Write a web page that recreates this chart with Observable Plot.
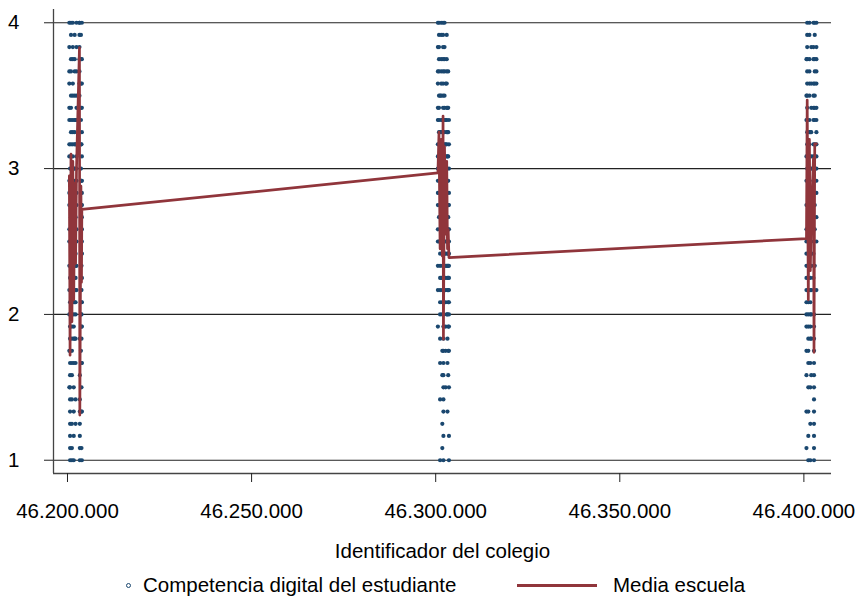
<!DOCTYPE html>
<html><head><meta charset="utf-8">
<script src="https://cdn.jsdelivr.net/npm/d3@7"></script>
<script src="https://cdn.jsdelivr.net/npm/@observablehq/plot@0.6"></script>
<style>
body{margin:0;background:#fff;font-family:"Liberation Sans",Arial,Helvetica,sans-serif;}
#chart svg{display:block}
#legend{position:relative;width:856px;height:31px;font-size:20.5px;line-height:20px;color:#000}
#legend span{position:absolute;white-space:nowrap}
</style></head><body>
<div id="chart"></div>
<div id="legend"></div>
<script>
// School identifiers (x) and school means (red line)
const schoolIds = [
  46200500, 46200700, 46200950, 46201200, 46201450, 46201700, 46201950, 46202200, 46202450, 46203250, 46203350, 46203650, 46203800, 46203900,
  46300600, 46300900, 46301200, 46301500, 46301800, 46302000, 46302100, 46302400, 46302700, 46303000, 46303200, 46303400, 46303600,
  46400700, 46400900, 46401200, 46401500, 46401750, 46402000, 46402600, 46402750, 46402950, 46403400
];
const schoolMeans = [
  2.95, 1.72, 3.10, 1.95, 3.05, 2.10, 2.90, 2.35, 3.00, 3.83, 1.31, 2.88, 2.22, 2.72,
  2.97, 3.25, 2.45, 3.20, 2.40, 3.36, 1.83, 3.15, 2.55, 3.05, 2.45, 2.58, 2.39,
  2.52, 3.47, 2.10, 3.20, 2.30, 2.66, 3.07, 1.74, 3.17, 3.17
];
// Student scores per school, in twelfths (score = k / 12)
const schoolScores = [
  [48,46,44,43,41,40,38,37,35,34,33,31,30,28,26,24,21,18],
  [36,30,27,25,24,23,22,21,20,19,18,17,16,15,14,13,12],
  [48,47,45,44,42,41,40,39,38,37,36,34,33,32,30,28,25],
  [34,31,29,27,26,25,24,23,22,21,20,19,17,15,13,12],
  [48,46,45,43,42,40,39,38,37,36,35,33,31,29,27],
  [36,33,31,29,28,27,26,25,24,23,22,20,18,16,14,12],
  [47,45,44,42,40,39,38,36,35,34,33,32,30,29,27,25,22],
  [40,38,35,33,32,31,30,29,28,27,26,25,24,22,20,17,15],
  [48,46,44,42,41,40,38,37,36,35,34,33,31,30,28,26],
  [48,48,47,46,45,44,43,42],
  [22,19,17,16,15,14,13,12],
  [47,45,43,41,40,38,36,35,34,33,32,30,28,26,24,21],
  [38,35,33,31,29,28,27,26,25,24,23,22,20,18,16,13],
  [48,45,43,41,39,37,35,34,33,32,31,30,29,27,25,23,20,16,12],

  [48,46,44,43,41,40,38,37,36,35,34,33,31,30,28,26,23],
  [48,47,46,45,44,42,41,40,39,38,37,36,35,34,32,30],
  [42,39,37,35,33,32,31,30,29,28,27,26,25,24,22,20,17,12],
  [48,47,45,44,43,42,40,39,38,37,36,35,34,32,30,27],
  [40,38,36,34,33,32,31,30,29,28,27,26,25,24,21,19,15,13],
  [48,47,46,45,44,43,42,41,40,39,38,37,35,33],
  [30,27,25,24,23,22,21,20,19,18,17,16,14,12],
  [48,46,45,44,42,41,40,39,38,37,36,35,33,31,29],
  [43,40,38,36,35,33,32,31,30,29,28,27,26,25,23,21,18],
  [47,45,44,43,41,40,39,38,37,36,35,34,33,32,30,28,24],
  [41,39,37,35,33,32,31,30,29,28,27,26,24,22,20,16],
  [44,41,39,37,35,33,32,31,30,29,28,27,26,25,23,21,19],
  [40,38,36,34,33,31,30,29,28,27,26,25,24,23,21,18,14,12],

  [45,42,40,37,35,33,31,30,29,28,27,26,25,24,23,21,19,16,13],
  [48,47,46,45,44,43,42,41,40,39,38,37,36],
  [36,33,31,29,28,27,26,25,24,23,22,21,20,18,16,14,12],
  [48,47,45,44,43,42,40,39,38,37,36,35,33,31,28],
  [39,36,34,32,31,30,29,28,27,26,25,24,23,22,20,18,15,12],
  [46,43,41,39,37,36,34,33,32,31,30,29,28,26,24,22,19],
  [48,46,45,43,42,41,40,38,37,36,35,34,33,31,29,27],
  [31,28,26,24,23,22,21,20,19,18,17,16,15,14,13,12],
  [48,47,45,44,43,42,41,40,38,37,36,35,33,31,28],
  [48,46,45,44,43,41,40,39,38,37,36,35,34,32,30,26]
];
const xTicks = [46200000, 46250000, 46300000, 46350000, 46400000];
const yTicks = [1, 2, 3, 4];
const xDomain = [46196200, 46407500];
const yDomain = [0.909, 4.091];
const xTitle = "Identificador del colegio";
const seriesNames = ["Competencia digital del estudiante", "Media escuela"];
const colors = {points: "#1a476f", line: "#90353b"};

const schools = schoolIds.map((id, i) => ({id, mean: schoolMeans[i]}));
const students = schoolIds.flatMap((id, i) => schoolScores[i].map(k => ({id, score: k / 12})));

const fmt = d3.formatLocale({decimal: ",", thousands: ".", grouping: [3], currency: ["", ""]}).format(",d");

const chart = Plot.plot({
  width: 856,
  height: 566,
  marginLeft: 53,
  marginRight: 25,
  marginTop: 9,
  marginBottom: 93,
  style: {fontFamily: '"Liberation Sans", Arial, Helvetica, sans-serif', fontSize: "20.5px", color: "#000", background: "#fff"},
  x: {domain: xDomain},
  y: {domain: yDomain},
  marks: [
    Plot.gridY(yTicks, {stroke: "#222", strokeOpacity: 1, strokeWidth: 1.1}),
    Plot.ruleX([xDomain[0]], {stroke: "#444", strokeWidth: 1.3}),
    Plot.ruleY([yDomain[0]], {stroke: "#444", strokeWidth: 1.3}),
    Plot.dot(students, {x: "id", y: "score", r: 2.1, fill: colors.points, stroke: null}),
    Plot.line(schools, {x: "id", y: "mean", stroke: colors.line, strokeWidth: 2.7}),
    Plot.axisY(yTicks, {tickSize: 9, tickPadding: 25, fontSize: 20.5, tickFormat: "d", label: null, stroke: "#222", fill: "#000"}),
    Plot.axisX(xTicks, {tickSize: 9, tickPadding: 21, fontSize: 20.5, tickFormat: fmt, stroke: "#222", fill: "#000",
      label: xTitle, labelAnchor: "center", labelArrow: "none", labelOffset: 84})
  ]
});
document.getElementById("chart").appendChild(chart);

const legend = document.getElementById("legend");
legend.innerHTML = `
  <span style="left:126px;top:17px;width:3px;height:3px;border:1px solid ${colors.points};border-radius:50%"></span>
  <span style="left:143px;top:9px">${seriesNames[0]}</span>
  <span style="left:517px;top:18px;width:80px;height:2.5px;background:${colors.line}"></span>
  <span style="left:613px;top:9px">${seriesNames[1]}</span>`;
</script>
</body></html>
